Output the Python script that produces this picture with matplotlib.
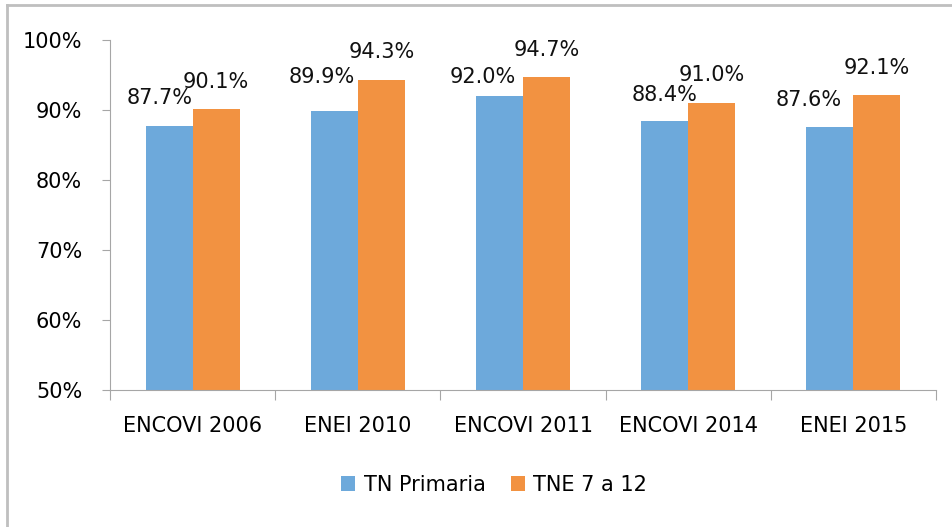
import matplotlib.pyplot as plt
import numpy as np

categories = ["ENCOVI 2006", "ENEI 2010", "ENCOVI 2011", "ENCOVI 2014", "ENEI 2015"]
tn_primaria = [87.7, 89.9, 92.0, 88.4, 87.6]
tne_7_12 = [90.1, 94.3, 94.7, 91.0, 92.1]
series_names = ["TN Primaria", "TNE 7 a 12"]

# label nudges (pixels) as placed in the original
blue_dx = [-9, -13, -17, 0, -21]
blue_dy = [28, 34, 19, 26, 27]
orange_dx = [0, 0, 0, 0, 0]
orange_dy = [27, 28, 27, 28, 27]

blue = "#6DA9DB"
orange = "#F29241"

fig = plt.figure(figsize=(9.52, 5.27), dpi=100)
ax = fig.add_axes([110 / 952, 1 - 390 / 527, 826 / 952, 350 / 527])

x = np.arange(len(categories))
w = 0.285
b1 = ax.bar(x - w / 2, [v - 50 for v in tn_primaria], w, bottom=50, color=blue, label=series_names[0])
b2 = ax.bar(x + w / 2, [v - 50 for v in tne_7_12], w, bottom=50, color=orange, label=series_names[1])

# data labels above the bars
for xs, vals, dxs, dys in [(x - w / 2, tn_primaria, blue_dx, blue_dy), (x + w / 2, tne_7_12, orange_dx, orange_dy)]:
    for xi, v, dx, dy in zip(xs, vals, dxs, dys):
        ax.annotate(f"{v:.1f}%", (xi, v), xytext=(dx, dy), textcoords="offset pixels",
                    ha="center", va="center", fontsize=15, color="#111111")

ax.set_xlim(-0.5, len(categories) - 0.5)
ax.set_ylim(50, 100)
ax.set_yticks([50, 60, 70, 80, 90, 100])
ax.set_yticklabels([f"{t}%" for t in [50, 60, 70, 80, 90, 100]], fontsize=15)

# category labels between boundary ticks
ax.set_xticks(np.arange(len(categories) + 1) - 0.5)
ax.set_xticklabels([])
ax.set_xticks(x, minor=True)
ax.set_xticklabels(categories, minor=True, fontsize=15)
ax.tick_params(axis="x", which="minor", length=0, pad=19)
ax.tick_params(axis="x", which="major", length=7, color="#A6A6A6")
ax.tick_params(axis="y", length=6, color="#A6A6A6", pad=14)

for s in ["top", "right"]:
    ax.spines[s].set_visible(False)
for s in ["left", "bottom"]:
    ax.spines[s].set_color("#A6A6A6")

fig.legend(handles=[b1, b2], loc="center", bbox_to_anchor=(494 / 952, 1 - 485 / 527),
           ncol=2, frameon=False, fontsize=15, handlelength=0.7, handleheight=0.7,
           columnspacing=1.2, handletextpad=0.4)

# outer chart border
fig.add_artist(plt.Line2D([7 / 952, 7 / 952], [0, 1 - 5 / 527], transform=fig.transFigure, color="#BFBFBF", lw=2))
fig.add_artist(plt.Line2D([7 / 952, 1], [1 - 5 / 527, 1 - 5 / 527], transform=fig.transFigure, color="#BFBFBF", lw=2))

fig.savefig("out.png", dpi=100)
